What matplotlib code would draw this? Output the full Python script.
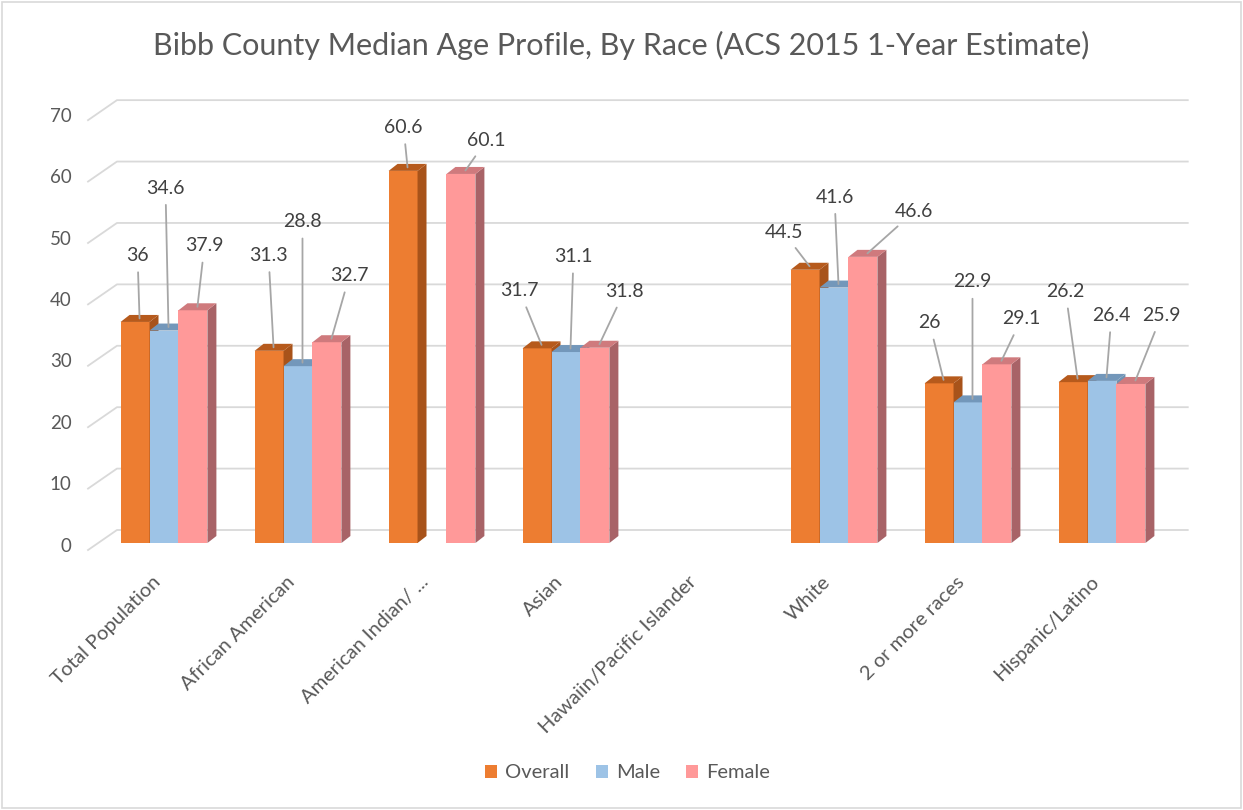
import numpy as np
import matplotlib
matplotlib.use('Agg')
import matplotlib.pyplot as plt
from matplotlib.patches import Polygon, Rectangle, Patch

plt.rcParams['font.family'] = ['Lato', 'DejaVu Sans']

categories = ['Total Population', 'African American', 'American Indian/ ...', 'Asian',
              'Hawaiin/Pacific Islander', 'White', '2 or more races', 'Hispanic/Latino']
overall = [36, 31.3, 60.6, 31.7, np.nan, 44.5, 26, 26.2]
male = [34.6, 28.8, np.nan, 31.1, np.nan, 41.6, 22.9, 26.4]
female = [37.9, 32.7, 60.1, 31.8, np.nan, 46.6, 29.1, 25.9]
series_names = ['Overall', 'Male', 'Female']
yticks = [0, 10, 20, 30, 40, 50, 60, 70]

# colours: front, top, side
cols = [('#ED7D31', '#B65A1C', '#A8531A'),
        ('#9DC3E6', '#7397BA', '#7092B2'),
        ('#FF9999', '#CF7A7D', '#A86367')]

# label offsets in pixels (dx, up) from the bar top, per series / category
lab_off = [
    [(-2, 63), (-5, 92), (-4, 40), (-22, 54), None, (-26, 34), (-14, 57), (-12, 87)],
    [(-3, 139), (0, 141), None, (3, 92), None, (-4, 87), (0, 117), (5, 62)],
    [(7, 61), (18, 63), (21, 30), (25, 53), None, (47, 42), (20, 42), (26, 65)],
]

fig = plt.figure(figsize=(12.43, 8.10), dpi=100)
ax = fig.add_axes([83.6 / 1243, (810 - 555.3) / 810, 1112.2 / 1243, 466.7 / 810])
ax.set_xlim(-0.6, 7.7)
ax.set_ylim(-2, 74)
ax.axis('off')

grid_c = '#D9D9D9'
for v in yticks:
    ax.plot([-0.567, -0.351, 7.64], [v - 1.14, v + 2.12, v + 2.12], color=grid_c, lw=1.3, zorder=1)
    ax.text(-0.69, v - 0.5, str(v), ha='right', va='center', fontsize=13.5, color='#595959',
            clip_on=False)

w = 0.216
ddx = 0.067
ddy = 1.14
data = [overall, male, female]
x = np.arange(len(categories))
for i in range(len(categories)):
    for s in range(3):
        v = data[s][i]
        if np.isnan(v):
            continue
        x0 = x[i] + (s - 1) * w - w / 2
        front, top, side = cols[s]
        z = 3 + i * 10 + s * 2
        ax.add_patch(Rectangle((x0, 0), w, v, facecolor=front, edgecolor='none', zorder=z))
        ax.add_patch(Polygon([(x0 + w, 0), (x0 + w + ddx, ddy), (x0 + w + ddx, v + ddy), (x0 + w, v)],
                             closed=True, facecolor=side, edgecolor='none', zorder=z))
        ax.add_patch(Polygon([(x0, v), (x0 + w, v), (x0 + w + ddx, v + ddy), (x0 + ddx, v + ddy)],
                             closed=True, facecolor=top, edgecolor='none', zorder=z + 1))

for i in range(len(categories)):
    for s in range(3):
        v = data[s][i]
        if np.isnan(v):
            continue
        xc = x[i] + (s - 1) * w + ddx / 2
        off = lab_off[s][i]
        ax.annotate(f'{v:g}', xy=(xc, v + ddy / 2), xytext=off, textcoords='offset pixels',
                    ha='center', va='center', fontsize=14, color='#404040', zorder=100,
                    arrowprops=dict(arrowstyle='-', color='#A6A6A6', lw=1.3, shrinkA=4, shrinkB=0))

for i, c in enumerate(categories):
    ax.text(x[i] - 0.045, -5.9, c, rotation=45, rotation_mode='anchor', ha='right', va='center',
            fontsize=14.5, color='#595959', clip_on=False)

fig.text(0.5, 1 - 45 / 810, 'Bibb County Median Age Profile, By Race (ACS 2015 1-Year Estimate)',
         ha='center', va='center', fontsize=22, color='#595959')

handles = [Patch(facecolor=cols[s][0], label=series_names[s]) for s in range(3)]
fig.legend(handles=handles, loc='center', bbox_to_anchor=(0.505, 1 - 773 / 810), ncol=3,
           frameon=False, fontsize=14.5, handlelength=0.6, handleheight=0.6, handletextpad=0.4,
           columnspacing=1.3, labelcolor='#595959')

fig.patches.append(Rectangle((2 / 1243, 2 / 810), 1 - 4 / 1243, 1 - 4 / 810, transform=fig.transFigure,
                             facecolor='none', edgecolor='#D9D9D9', lw=1.2))

fig.savefig('out.png', dpi=100)
